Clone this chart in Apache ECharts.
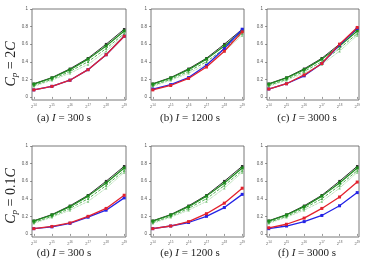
<!DOCTYPE html>
<html>
<head>
<meta charset="utf-8">
<script src="https://cdn.jsdelivr.net/npm/echarts@6/dist/echarts.min.js"></script>
<style>
  html, body { margin: 0; padding: 0; background: #fff; }
  #chart1 { width: 366px; height: 265px; }
</style>
</head>
<body>
<div id="chart1"></div>
<script>
// x: 2^14 .. 2^19
var xExp = [14, 15, 16, 17, 18, 19];
var yTicks = [0, 0.2, 0.4, 0.6, 0.8, 1];

// shared reference curves (same in every panel)
var blackVals = [0.15, 0.22, 0.32, 0.44, 0.60, 0.77];
var greenSolid = [0.145, 0.215, 0.31, 0.43, 0.58, 0.75];
var greenDashed = [0.13, 0.20, 0.29, 0.40, 0.55, 0.72];
var greenDotted = [0.12, 0.19, 0.27, 0.37, 0.52, 0.70];

// red / blue per panel
var redA = [0.08, 0.12, 0.19, 0.31, 0.48, 0.69];
var blueA = [0.08, 0.12, 0.19, 0.31, 0.48, 0.69];
var redB = [0.08, 0.13, 0.21, 0.34, 0.52, 0.74];
var blueB = [0.09, 0.14, 0.22, 0.36, 0.55, 0.77];
var redC = [0.09, 0.15, 0.25, 0.38, 0.60, 0.79];
var blueC = [0.09, 0.15, 0.24, 0.38, 0.59, 0.78];
var redD = [0.06, 0.085, 0.125, 0.20, 0.29, 0.44];
var blueD = [0.06, 0.08, 0.12, 0.19, 0.27, 0.41];
var redE = [0.06, 0.09, 0.14, 0.23, 0.35, 0.52];
var blueE = [0.06, 0.09, 0.13, 0.20, 0.30, 0.45];
var redF = [0.07, 0.11, 0.18, 0.29, 0.42, 0.59];
var blueF = [0.06, 0.09, 0.14, 0.21, 0.32, 0.47];

var redSets = [redA, redB, redC, redD, redE, redF];
var blueSets = [blueA, blueB, blueC, blueD, blueE, blueF];
var captionLetters = ['a', 'b', 'c', 'd', 'e', 'f'];
var captionTimes = ['300', '1200', '3000', '300', '1200', '3000'];

var chart1 = echarts.init(document.getElementById('chart1'));

var lefts = [32, 151, 267];
var widths = [94, 93, 92];
var tops = [9, 146];
var h = 91;
var capX = [64, 190, 307];
var capY = [118, 253];

function pairs(vals) {
  return xExp.map(function (x, i) { return [x, vals[i]]; });
}

var grids = [], xAxes = [], yAxes = [], series = [], graphics = [];

for (var p = 0; p < 6; p++) {
  var col = p % 3, row = Math.floor(p / 3);
  grids.push({
    left: lefts[col], top: tops[row], width: widths[col], height: h,
    show: true, borderColor: '#555', borderWidth: 0.8, backgroundColor: '#fff'
  });
  xAxes.push({
    gridIndex: p, type: 'value', min: 13.9, max: 19.1,
    axisLine: { show: false },
    splitLine: { show: false },
    axisTick: { show: true, length: 2, customValues: xExp, lineStyle: { color: '#555', width: 0.6 } },
    axisLabel: {
      customValues: xExp, margin: 4, color: '#666', fontSize: 4,
      formatter: function (v) { return '2{s|' + v + '}'; },
      rich: { s: { fontSize: 3, color: '#666', padding: [0, 0, 3, 0] } }
    }
  });
  yAxes.push({
    gridIndex: p, type: 'value', min: -0.035, max: 1,
    axisLine: { show: false },
    splitLine: { show: false },
    axisTick: { show: true, length: 2, customValues: yTicks, lineStyle: { color: '#555', width: 0.6 } },
    axisLabel: { customValues: yTicks, margin: 4, color: '#555', fontSize: 4.5,
      formatter: function (v) { return String(Math.round(v * 10) / 10); } }
  });

  var common = { xAxisIndex: p, yAxisIndex: p, type: 'line', animation: false, silent: true };
  series.push(Object.assign({}, common, {
    data: pairs(greenDotted), symbol: 'triangle', symbolSize: 2.5,
    lineStyle: { color: '#7cc47c', width: 0.8, type: 'dotted' }, itemStyle: { color: '#7cc47c' }
  }));
  series.push(Object.assign({}, common, {
    data: pairs(greenDashed), symbol: 'triangle', symbolSize: 2.5,
    lineStyle: { color: '#3fa83f', width: 0.9, type: [3, 1.5] }, itemStyle: { color: '#3fa83f' }
  }));
  series.push(Object.assign({}, common, {
    data: pairs(blackVals), symbol: 'rect', symbolSize: 2.5,
    lineStyle: { color: '#333', width: 1 }, itemStyle: { color: '#333' }
  }));
  series.push(Object.assign({}, common, {
    data: pairs(greenSolid), symbol: 'rect', symbolSize: 3,
    lineStyle: { color: '#1c8c1c', width: 1.2 }, itemStyle: { color: '#1c8c1c' }
  }));
  series.push(Object.assign({}, common, {
    data: pairs(blueSets[p]), symbol: 'rect', symbolSize: 3,
    lineStyle: { color: '#2323e6', width: 1.3 }, itemStyle: { color: '#2323e6' }
  }));
  series.push(Object.assign({}, common, {
    data: pairs(redSets[p]), symbol: 'rect', symbolSize: 3,
    lineStyle: { color: '#e3222e', width: 1.3 }, itemStyle: { color: '#e3222e' }
  }));

  graphics.push({
    type: 'text', x: capX[col], y: capY[row],
    style: {
      text: '(' + captionLetters[p] + ') {i|I} = ' + captionTimes[p] + ' s',
      font: '11px "Liberation Serif"', fill: '#222',
      align: 'center', verticalAlign: 'middle',
      rich: { i: { fontFamily: 'Liberation Serif', fontStyle: 'italic', fontSize: 11, fill: '#222' } }
    }
  });
}

// row labels
var rowLabels = ['2', '0.1'];
var rowLabelY = [64, 196];
for (var r = 0; r < 2; r++) {
  graphics.push({
    type: 'text', x: 11, y: rowLabelY[r], rotation: Math.PI / 2,
    style: {
      text: '{i|C}{s|p} = ' + rowLabels[r] + '{i|C}',
      font: '14px "Liberation Serif"', fill: '#222',
      align: 'center', verticalAlign: 'middle',
      rich: {
        i: { fontFamily: 'Liberation Serif', fontStyle: 'italic', fontSize: 14, fill: '#222' },
        s: { fontFamily: 'Liberation Serif', fontStyle: 'italic', fontSize: 9, fill: '#222', padding: [8, 0, 0, 0] }
      }
    }
  });
}

var option1 = {
  backgroundColor: '#fff',
  grid: grids,
  xAxis: xAxes,
  yAxis: yAxes,
  series: series,
  graphic: graphics
};

chart1.setOption(option1);

window.onresize = function () {
  chart1.resize();
};
</script>
</body>
</html>
